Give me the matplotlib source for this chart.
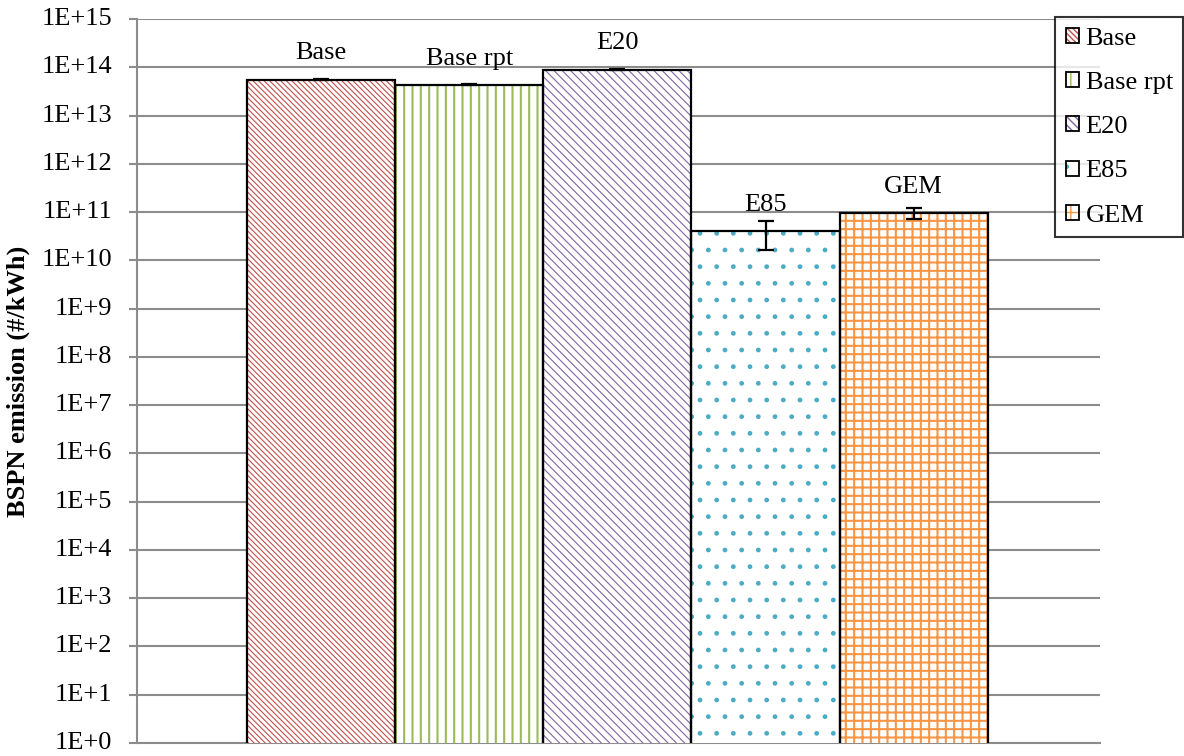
import matplotlib.pyplot as plt
import matplotlib.patches as mpatches
from matplotlib.legend_handler import HandlerTuple
import numpy as np

plt.rcParams['font.family'] = ['Liberation Serif', 'DejaVu Serif']
plt.rcParams['hatch.linewidth'] = 1.0

# data
fuels = ['Base', 'Base rpt', 'E20', 'E85', 'GEM']
bspn = [5.5e13, 4.3e13, 8.9e13, 4.0e10, 9.6e10]
bspn_err = [1.2e12, 1.0e12, 1.5e12, 2.4e10, 2.5e10]
colors = ['#C0504D', '#9BBB59', '#8064A2', '#4BACC6', '#F79646']
hatches = ['\\' * 6, '||', '\\' * 4, '.', '++']
hatch_lw = [0.8, 1.5, 0.8, 1.0, 1.5]
tick_vals = [10.0**k for k in range(0, 16)]
tick_labels = ['1E+%d' % k for k in range(0, 16)]

FS = 19

fig = plt.figure(figsize=(11.84, 7.56), dpi=100)
ax = fig.add_axes([0.1157, 0.0172, 0.8133, 0.9577])

x = np.arange(len(fuels))
# hatch layer, then black outline on top
bars = ax.bar(x, bspn, width=1.0, color='white', edgecolor=colors, hatch=hatches,
              linewidth=0, zorder=3)
for b, lw in zip(bars, hatch_lw):
    if hasattr(b, 'set_hatch_linewidth'):
        b.set_hatch_linewidth(lw)
ax.bar(x, bspn, width=1.0, color='none', edgecolor='black', linewidth=1.6, zorder=4)
ax.errorbar(x, bspn, yerr=bspn_err, fmt='none', ecolor='black', elinewidth=1.6,
            capsize=6, capthick=1.6, zorder=5)

# labels above each bar
for xi, v, name in zip(x, bspn, fuels):
    ax.annotate(name, (xi, v), xytext=(0, 11), textcoords='offset points',
                ha='center', va='bottom', fontsize=FS, zorder=6)

ax.set_yscale('log')
ax.set_ylim(1, 1e15)
ax.set_xlim(-1.243, 5.257)
ax.set_yticks(tick_vals)
ax.set_yticklabels(tick_labels, fontsize=FS, va='center')
ax.minorticks_off()
ax.set_xticks([])
ax.yaxis.grid(True, color='#8C8C8C', linewidth=1.5, zorder=0)
ax.tick_params(axis='y', length=6, width=1.5, color='#8C8C8C', pad=12)
for s in ['top', 'right']:
    ax.spines[s].set_visible(False)
for s in ['left', 'bottom']:
    ax.spines[s].set_color('#8C8C8C')
    ax.spines[s].set_linewidth(1.5)
ax.set_ylabel('BSPN emission (#/kWh)', fontsize=FS, fontweight='bold', labelpad=8)

# legend: coloured hatch with a black outline on top
handles = []
for c, h, lw in zip(colors, hatches, hatch_lw):
    p = mpatches.Patch(facecolor='white', edgecolor=c, hatch=h, linewidth=0)
    if hasattr(p, 'set_hatch_linewidth'):
        p.set_hatch_linewidth(lw)
    frame = mpatches.Patch(facecolor='none', edgecolor='black', linewidth=1.3)
    handles.append((p, frame))
leg = fig.legend(handles, fuels, loc='upper right', bbox_to_anchor=(0.9995, 0.977),
                 borderaxespad=0, fontsize=FS, frameon=True, fancybox=False,
                 edgecolor='black', handlelength=0.5, handleheight=0.5,
                 handletextpad=0.25, labelspacing=0.84, borderpad=0.4,
                 handler_map={tuple: HandlerTuple(ndivide=1, pad=0)})
leg.get_frame().set_linewidth(1.5)

fig.savefig('out.png', dpi=100)
